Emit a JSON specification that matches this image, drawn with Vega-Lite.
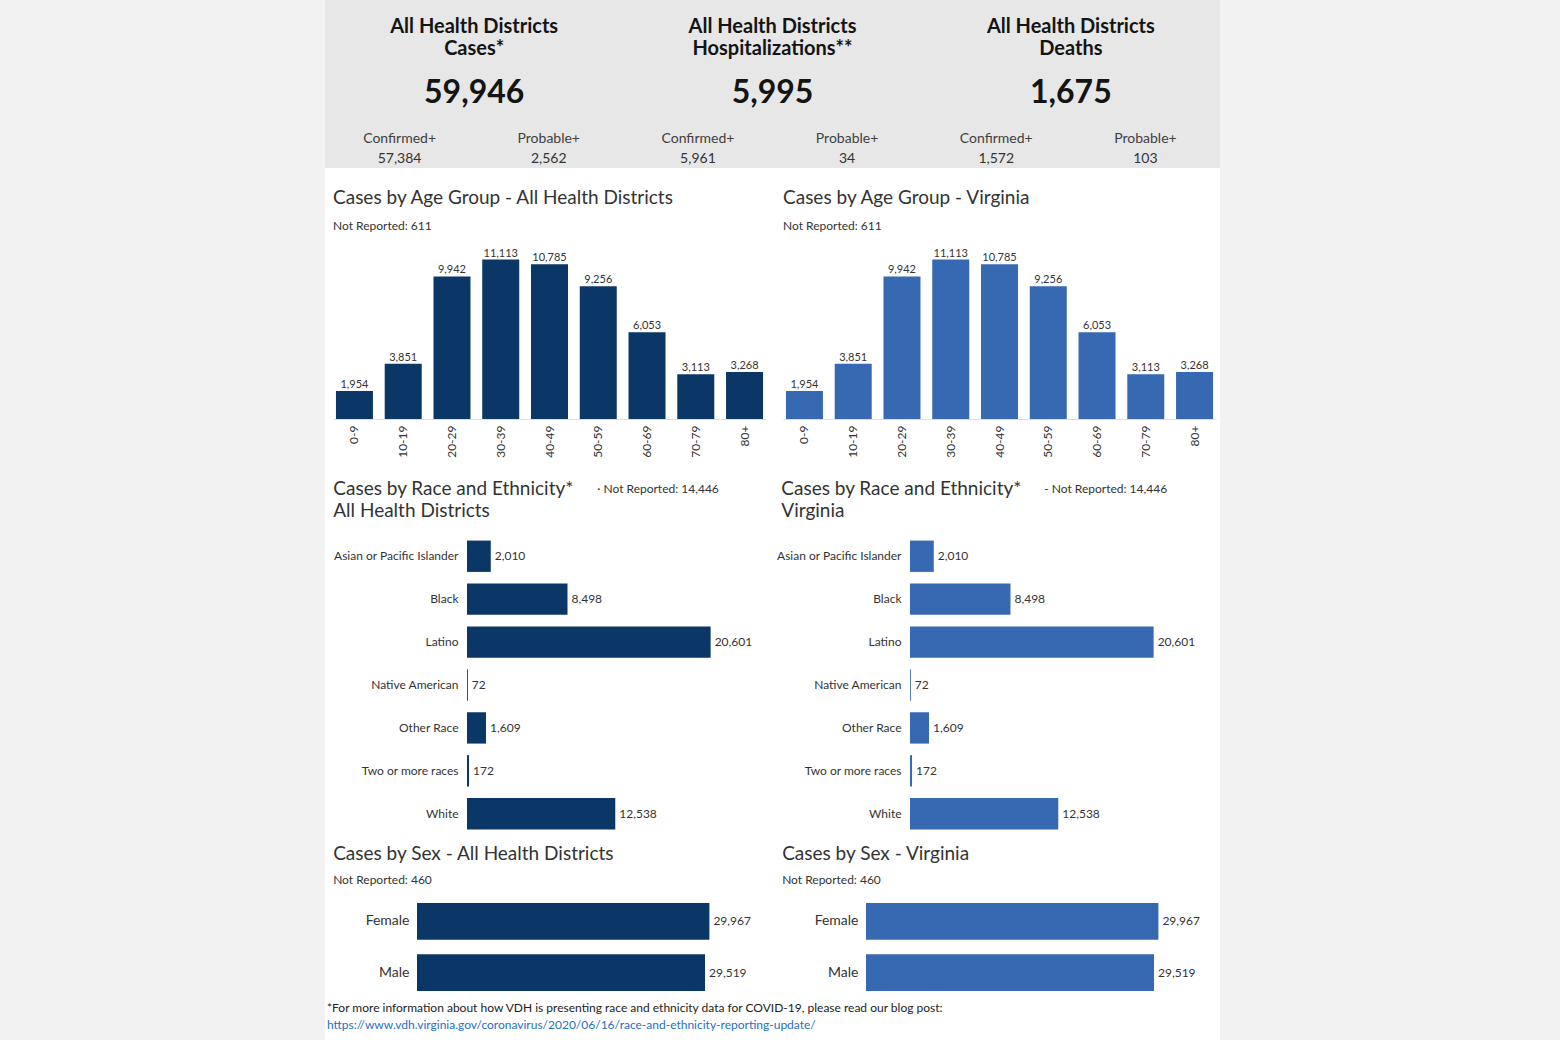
{
  "$schema": "https://vega.github.io/schema/vega-lite/v6.json",
  "background": "white",
  "padding": 0,
  "config": {
    "font": "Lato",
    "view": {"stroke": null},
    "title": {"anchor": "start", "frame": "bounds", "font": "Lato", "fontWeight": "normal", "fontSize": 19, "color": "#333333", "subtitleFont": "Lato", "subtitleFontSize": 12, "subtitleColor": "#333333"},
    "axis": {"labelFont": "Lato", "titleFont": "Lato"},
    "text": {"font": "Lato"}
  },
  "datasets": {
    "kpi": [
      {"panel": "Cases", "line": "t1", "text": "All Health Districts"},
      {"panel": "Cases", "line": "t2", "text": "Cases*"},
      {"panel": "Cases", "line": "big", "text": "59,946"},
      {"panel": "Cases", "line": "label", "kind": "Confirmed+", "text": "Confirmed+"},
      {"panel": "Cases", "line": "label", "kind": "Probable+", "text": "Probable+"},
      {"panel": "Cases", "line": "value", "kind": "Confirmed+", "text": "57,384"},
      {"panel": "Cases", "line": "value", "kind": "Probable+", "text": "2,562"},
      {"panel": "Hospitalizations", "line": "t1", "text": "All Health Districts"},
      {"panel": "Hospitalizations", "line": "t2", "text": "Hospitalizations**"},
      {"panel": "Hospitalizations", "line": "big", "text": "5,995"},
      {"panel": "Hospitalizations", "line": "label", "kind": "Confirmed+", "text": "Confirmed+"},
      {"panel": "Hospitalizations", "line": "label", "kind": "Probable+", "text": "Probable+"},
      {"panel": "Hospitalizations", "line": "value", "kind": "Confirmed+", "text": "5,961"},
      {"panel": "Hospitalizations", "line": "value", "kind": "Probable+", "text": "34"},
      {"panel": "Deaths", "line": "t1", "text": "All Health Districts"},
      {"panel": "Deaths", "line": "t2", "text": "Deaths"},
      {"panel": "Deaths", "line": "big", "text": "1,675"},
      {"panel": "Deaths", "line": "label", "kind": "Confirmed+", "text": "Confirmed+"},
      {"panel": "Deaths", "line": "label", "kind": "Probable+", "text": "Probable+"},
      {"panel": "Deaths", "line": "value", "kind": "Confirmed+", "text": "1,572"},
      {"panel": "Deaths", "line": "value", "kind": "Probable+", "text": "103"}
    ],
    "age": [
      {"age": "0-9", "count": 1954},
      {"age": "10-19", "count": 3851},
      {"age": "20-29", "count": 9942},
      {"age": "30-39", "count": 11113},
      {"age": "40-49", "count": 10785},
      {"age": "50-59", "count": 9256},
      {"age": "60-69", "count": 6053},
      {"age": "70-79", "count": 3113},
      {"age": "80+", "count": 3268}
    ],
    "race": [
      {"race": "Asian or Pacific Islander", "count": 2010},
      {"race": "Black", "count": 8498},
      {"race": "Latino", "count": 20601},
      {"race": "Native American", "count": 72},
      {"race": "Other Race", "count": 1609},
      {"race": "Two or more races", "count": 172},
      {"race": "White", "count": 12538}
    ],
    "sex": [
      {"sex": "Female", "count": 29967},
      {"sex": "Male", "count": 29519}
    ]
  },
  "spacing": 0,
  "hconcat": [
    {"width": 325, "height": 1040, "view": {"fill": "#f2f2f2"}, "data": {"values": [{}]}, "mark": {"type": "text"}, "encoding": {"text": {"value": ""}}},
    {
      "spacing": 21,
      "vconcat": [
        {
          "width": 895, "height": 168,
          "view": {"fill": "#e7e7e7"},
          "data": {"name": "kpi"},
          "encoding": {
            "x": {"field": "panel", "type": "nominal", "sort": null, "bandPosition": 0.5, "scale": {"type": "band", "domain": ["Cases", "Hospitalizations", "Deaths"], "paddingInner": 0, "paddingOuter": 0}, "axis": null},
            "y": {"field": "line", "type": "nominal", "scale": {"type": "point", "domain": ["g0", "t1", "t2", "g1", "big", "g2", "label", "value"], "padding": 0.318, "align": 0.35}, "axis": null}
          },
          "layer": [
            {"transform": [{"filter": {"field": "line", "oneOf": ["t1", "t2"]}}], "mark": {"type": "text", "fontSize": 20, "fontWeight": "bold", "color": "#141414"}, "encoding": {"text": {"field": "text"}}},
            {"transform": [{"filter": {"field": "line", "equal": "big"}}], "mark": {"type": "text", "fontSize": 32, "fontWeight": "bold", "color": "#141414"}, "encoding": {"text": {"field": "text"}}},
            {"transform": [{"filter": {"field": "line", "equal": "label"}}], "mark": {"type": "text", "fontSize": 14, "dy": 2, "color": "#404040"}, "encoding": {"text": {"field": "text"}, "xOffset": {"field": "kind", "type": "nominal", "scale": {"type": "point", "domain": ["Confirmed+", "Probable+"], "padding": 0.5}}}},
            {"transform": [{"filter": {"field": "line", "equal": "value"}}], "mark": {"type": "text", "fontSize": 14, "color": "#333333"}, "encoding": {"text": {"field": "text"}, "xOffset": {"field": "kind", "type": "nominal", "scale": {"type": "point", "domain": ["Confirmed+", "Probable+"], "padding": 0.5}}}}
          ]
        },
        {
          "spacing": 22,
          "vconcat": [
            {
              "spacing": 0,
              "hconcat": [
                {"width": 8, "height": 1, "data": {"values": [{}]}, "mark": {"type": "text"}, "encoding": {"text": {"value": ""}}},
                {
                  "spacing": 17,
                  "hconcat": [
                    {
                      "width": 433, "height": 175,
                      "title": {"text": "Cases by Age Group - All Health Districts", "subtitle": "Not Reported: 611", "subtitlePadding": 13, "offset": 12},
                      "data": {"name": "age"},
                      "encoding": {
                        "x": {"field": "age", "type": "nominal", "sort": null, "scale": {"type": "band", "paddingInner": 0.22, "paddingOuter": 0.05}, "axis": {"title": null, "labelAngle": -90, "labelFontSize": 12, "labelColor": "#333333", "ticks": false, "domainColor": "#dddddd", "labelPadding": 6}},
                        "y": {"field": "count", "type": "quantitative", "scale": {"domain": [0, 12200]}, "axis": null}
                      },
                      "layer": [
                        {"mark": {"type": "bar", "color": "#0b3766", "width": 37}},
                        {"mark": {"type": "text", "baseline": "bottom", "dy": -1, "fontSize": 11, "color": "#333333"}, "encoding": {"text": {"field": "count", "format": ","}}}
                      ]
                    },
                    {
                      "width": 433, "height": 175,
                      "title": {"text": "Cases by Age Group - Virginia", "subtitle": "Not Reported: 611", "subtitlePadding": 13, "offset": 12},
                      "data": {"name": "age"},
                      "encoding": {
                        "x": {"field": "age", "type": "nominal", "sort": null, "scale": {"type": "band", "paddingInner": 0.22, "paddingOuter": 0.05}, "axis": {"title": null, "labelAngle": -90, "labelFontSize": 12, "labelColor": "#333333", "ticks": false, "domainColor": "#dddddd", "labelPadding": 6}},
                        "y": {"field": "count", "type": "quantitative", "scale": {"domain": [0, 12200]}, "axis": null}
                      },
                      "layer": [
                        {"mark": {"type": "bar", "color": "#3768b2", "width": 37}},
                        {"mark": {"type": "text", "baseline": "bottom", "dy": -1, "fontSize": 11, "color": "#333333"}, "encoding": {"text": {"field": "count", "format": ","}}}
                      ]
                    }
                  ]
                }
              ]
            },
            {
              "spacing": 10,
              "vconcat": [
                {
                  "spacing": 0,
                  "hconcat": [
                    {"width": 8, "height": 1, "data": {"values": [{}]}, "mark": {"type": "text"}, "encoding": {"text": {"value": ""}}},
                    {
                      "spacing": 23,
                      "hconcat": [
                        {
                          "title": {"text": "· Not Reported: 14,446", "fontSize": 12, "color": "#333333", "dx": 264, "offset": -16},
                          "vconcat": [
                            {
                              "width": 272, "height": 300,
                              "title": {"text": ["Cases by Race and Ethnicity*", "All Health Districts"], "lineHeight": 22, "offset": 14},
                              "data": {"name": "race"},
                              "encoding": {
                                "y": {"field": "race", "type": "nominal", "sort": null, "scale": {"paddingInner": 0.27, "paddingOuter": 0.13}, "axis": {"title": null, "ticks": false, "domain": false, "labelFontSize": 12, "labelPadding": 9, "labelColor": "#333333"}},
                                "x": {"field": "count", "type": "quantitative", "scale": {"domain": [0, 23000]}, "axis": null}
                              },
                              "layer": [
                                {"mark": {"type": "bar", "color": "#0b3766"}},
                                {"mark": {"type": "text", "align": "left", "dx": 4, "fontSize": 12, "color": "#333333"}, "encoding": {"text": {"field": "count", "format": ","}}}
                              ]
                            }
                          ]
                        },
                        {
                          "title": {"text": "- Not Reported: 14,446", "fontSize": 12, "color": "#333333", "dx": 268, "offset": -16},
                          "vconcat": [
                            {
                              "width": 272, "height": 300,
                              "title": {"text": ["Cases by Race and Ethnicity*", "Virginia"], "lineHeight": 22, "offset": 14, "dx": 5},
                              "data": {"name": "race"},
                              "encoding": {
                                "y": {"field": "race", "type": "nominal", "sort": null, "scale": {"paddingInner": 0.27, "paddingOuter": 0.13}, "axis": {"title": null, "ticks": false, "domain": false, "labelFontSize": 12, "labelPadding": 9, "labelColor": "#333333"}},
                                "x": {"field": "count", "type": "quantitative", "scale": {"domain": [0, 23000]}, "axis": null}
                              },
                              "layer": [
                                {"mark": {"type": "bar", "color": "#3768b2"}},
                                {"mark": {"type": "text", "align": "left", "dx": 4, "fontSize": 12, "color": "#333333"}, "encoding": {"text": {"field": "count", "format": ","}}}
                              ]
                            }
                          ]
                        }
                      ]
                    }
                  ]
                },
                {
                  "spacing": 5,
                  "vconcat": [
                    {
                      "spacing": 0,
                      "hconcat": [
                        {"width": 8, "height": 1, "data": {"values": [{}]}, "mark": {"type": "text"}, "encoding": {"text": {"value": ""}}},
                        {
                          "spacing": 31,
                          "hconcat": [
                            {
                              "width": 322, "height": 98,
                              "title": {"text": "Cases by Sex - All Health Districts", "subtitle": "Not Reported: 460", "subtitlePadding": 11, "offset": 12, "dx": -32},
                              "data": {"name": "sex"},
                              "encoding": {
                                "y": {"field": "sex", "type": "nominal", "sort": null, "scale": {"paddingInner": 0.28, "paddingOuter": 0.1}, "axis": {"title": null, "ticks": false, "domain": false, "labelFontSize": 14, "labelPadding": 8, "labelColor": "#333333"}},
                                "x": {"field": "count", "type": "quantitative", "scale": {"domain": [0, 33000]}, "axis": null}
                              },
                              "layer": [
                                {"mark": {"type": "bar", "color": "#0b3766"}},
                                {"mark": {"type": "text", "align": "left", "dx": 4, "fontSize": 12, "color": "#333333"}, "encoding": {"text": {"field": "count", "format": ","}}}
                              ]
                            },
                            {
                              "width": 322, "height": 98,
                              "title": {"text": "Cases by Sex - Virginia", "subtitle": "Not Reported: 460", "subtitlePadding": 11, "offset": 12, "dx": -32},
                              "data": {"name": "sex"},
                              "encoding": {
                                "y": {"field": "sex", "type": "nominal", "sort": null, "scale": {"paddingInner": 0.28, "paddingOuter": 0.1}, "axis": {"title": null, "ticks": false, "domain": false, "labelFontSize": 14, "labelPadding": 8, "labelColor": "#333333"}},
                                "x": {"field": "count", "type": "quantitative", "scale": {"domain": [0, 33000]}, "axis": null}
                              },
                              "layer": [
                                {"mark": {"type": "bar", "color": "#3768b2"}},
                                {"mark": {"type": "text", "align": "left", "dx": 4, "fontSize": 12, "color": "#333333"}, "encoding": {"text": {"field": "count", "format": ","}}}
                              ]
                            }
                          ]
                        }
                      ]
                    },
                    {
                      "spacing": 0,
                      "hconcat": [
                        {"width": 2, "height": 1, "data": {"values": [{}]}, "mark": {"type": "text"}, "encoding": {"text": {"value": ""}}},
                        {
                          "width": 880, "height": 1,
                          "title": {"text": "*For more information about how VDH is presenting race and ethnicity data for COVID-19, please read our blog post:", "subtitle": "https://www.vdh.virginia.gov/coronavirus/2020/06/16/race-and-ethnicity-reporting-update/", "fontSize": 12, "color": "#222222", "subtitleFontSize": 12, "subtitleColor": "#1f6fc2", "subtitlePadding": 5, "offset": 0},
                          "data": {"values": [{}]},
                          "mark": {"type": "text"},
                          "encoding": {"text": {"value": ""}}
                        }
                      ]
                    }
                  ]
                }
              ]
            }
          ]
        }
      ]
    },
    {"width": 340, "height": 1040, "view": {"fill": "#f2f2f2"}, "data": {"values": [{}]}, "mark": {"type": "text"}, "encoding": {"text": {"value": ""}}}
  ]
}
